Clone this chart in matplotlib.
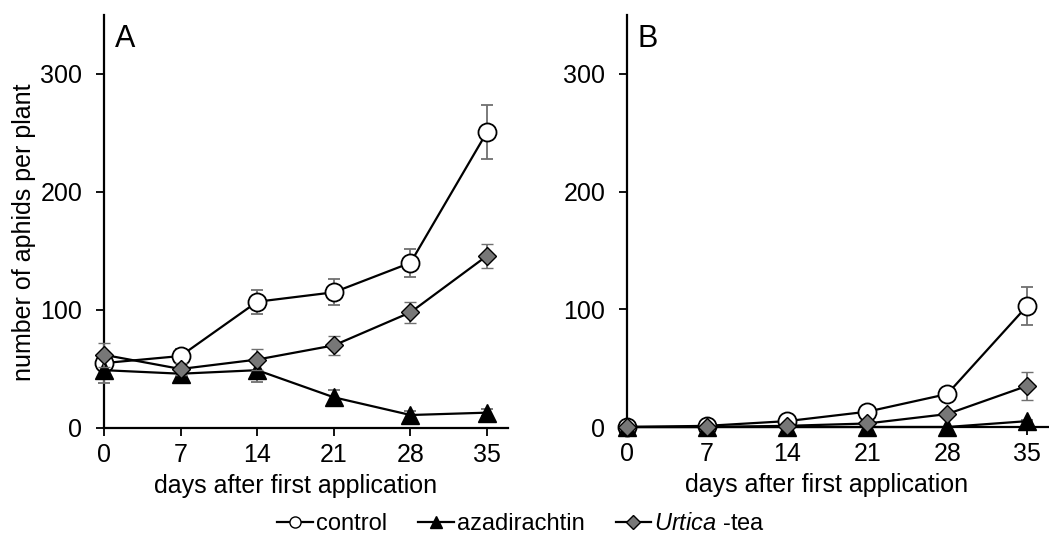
import matplotlib.pyplot as plt
from matplotlib.lines import Line2D

plt.rcParams["font.family"] = ["Liberation Sans", "DejaVu Sans"]
plt.rcParams["mathtext.fontset"] = "custom"
plt.rcParams["mathtext.it"] = "Liberation Sans:italic"
plt.rcParams["mathtext.rm"] = "Liberation Sans"

days = [0, 7, 14, 21, 28, 35]

# panel A
ctrl_a = [55, 61, 107, 115, 140, 251]
ctrl_a_err = [5, 6, 10, 11, 12, 23]
aza_a = [49, 46, 49, 26, 11, 13]
aza_a_err = [11, 5, 10, 6, 3, 3]
urt_a = [62, 50, 58, 70, 98, 146]
urt_a_err = [10, 5, 9, 8, 9, 10]

# panel B
ctrl_b = [0, 1, 5, 13, 28, 103]
ctrl_b_err = [0, 0, 1, 2, 3, 16]
aza_b = [0, 0, 0, 0, 0, 5]
aza_b_err = [0, 0, 0, 0, 0, 1]
urt_b = [0, 0, 1, 3, 11, 35]
urt_b_err = [0, 0, 0, 1, 2, 12]

fig = plt.figure(figsize=(10.49, 5.43), dpi=100)
ax_a = fig.add_axes([0.0991, 0.2118, 0.3851, 0.7606])
ax_b = fig.add_axes([0.5977, 0.2136, 0.4023, 0.7587])

err_kw = dict(ecolor="#707070", elinewidth=1.3, capsize=4, capthick=1.3)

def draw(ax, c, ce, a, ae, u, ue, letter):
    ax.errorbar(days, c, yerr=ce, color="black", lw=1.6, marker="o", ms=13,
                mfc="white", mec="black", mew=1.3, clip_on=False, zorder=3,
                **err_kw)
    ax.errorbar(days, a, yerr=ae, color="black", lw=1.6, marker="^", ms=13,
                mfc="black", mec="black", clip_on=False, zorder=4, **err_kw)
    ax.errorbar(days, u, yerr=ue, color="black", lw=1.6, marker="D", ms=9.5,
                mfc="#777777", mec="black", mew=1.0, clip_on=False, zorder=5,
                **err_kw)
    ax.set_xlim(0, 36.9)
    ax.set_ylim(0, 350)
    ax.set_xticks(days)
    ax.set_yticks([0, 100, 200, 300])
    ax.spines["top"].set_visible(False)
    ax.spines["right"].set_visible(False)
    ax.spines["left"].set_linewidth(1.6)
    ax.spines["bottom"].set_linewidth(1.6)
    ax.tick_params(direction="out", length=5.5, width=1.3, labelsize=18)
    ax.tick_params(axis="y", pad=10)
    ax.tick_params(axis="x", pad=5.5)
    ax.set_xlabel("days after first application", fontsize=18)
    ax.xaxis.set_label_coords(0.474, -0.112)
    ax.text(0.026, 0.978, letter, transform=ax.transAxes, fontsize=22,
            va="top", ha="left")

draw(ax_a, ctrl_a, ctrl_a_err, aza_a, aza_a_err, urt_a, urt_a_err, "A")
draw(ax_b, ctrl_b, ctrl_b_err, aza_b, aza_b_err, urt_b, urt_b_err, "B")
ax_a.set_ylabel("number of aphids per plant", fontsize=18)
ax_a.yaxis.set_label_coords(-0.168, 0.474)

handles = [
    Line2D([], [], color="black", lw=1.6, marker="o", ms=8, mfc="white", mec="black"),
    Line2D([], [], color="black", lw=1.6, marker="^", ms=9, mfc="black", mec="black"),
    Line2D([], [], color="black", lw=1.6, marker="D", ms=7, mfc="#777777", mec="black"),
]
labels = ["control", "azadirachtin", "$\\it{Urtica}$ -tea"]
fig.legend(handles, labels, loc="center", bbox_to_anchor=(0.497, 0.035),
           ncol=3, frameon=False, fontsize=17, handlelength=1.5,
           handletextpad=0.15, columnspacing=1.3)

fig.savefig("out.png", dpi=100)
